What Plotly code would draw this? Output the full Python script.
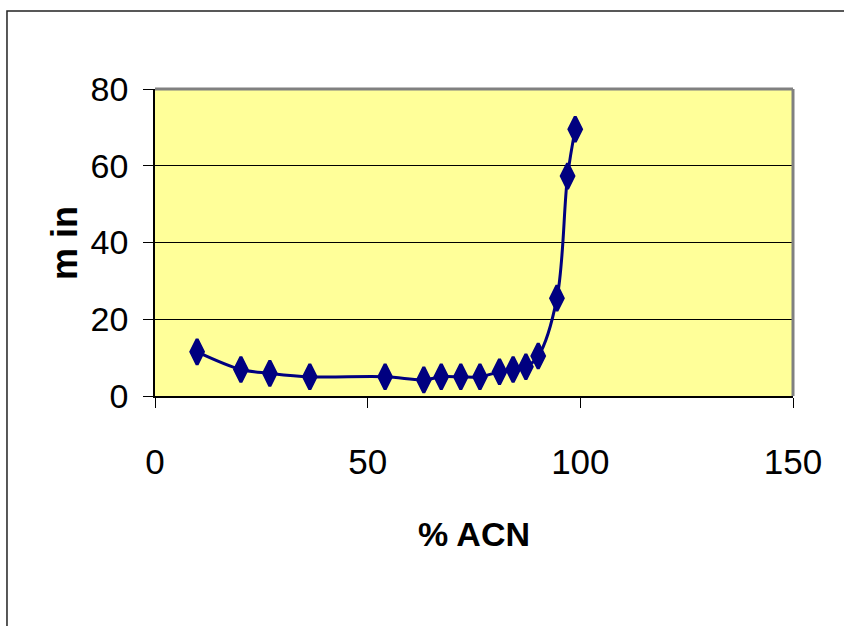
import plotly.graph_objects as go

# % acetonitrile in the mobile phase vs retention time (min)
acn_pct = [9.9, 20.2, 27.0, 36.4, 54.1, 63.2, 67.3, 71.9, 76.4, 81.0, 84.2, 87.2, 90.1, 94.5, 97.0, 98.8]
ret_min = [11.5, 6.9, 5.9, 5.0, 5.0, 4.2, 5.0, 5.0, 5.0, 6.3, 6.9, 7.6, 10.4, 25.5, 57.3, 69.5]

x_ticks = [0, 50, 100, 150]
y_ticks = [0, 20, 40, 60, 80]

NAVY = "#000080"
FONT = "Liberation Sans Narrow, Arial Narrow, Liberation Sans, sans-serif"

fig = go.Figure()
fig.add_trace(go.Scatter(
    x=acn_pct, y=ret_min,
    mode="lines+markers",
    line=dict(color=NAVY, width=3, shape="spline", smoothing=1.0),
    marker=dict(symbol="diamond-tall", size=18, color=NAVY,
                line=dict(color=NAVY, width=3)),
    showlegend=False,
    cliponaxis=False,
))

fig.update_layout(
    width=844, height=626,
    margin=dict(l=155, r=51, t=89, b=230),
    paper_bgcolor="white",
    plot_bgcolor="#FFFF99",
    font=dict(family=FONT, color="black", size=36),
    xaxis=dict(
        range=[0, 150], tickvals=x_ticks, ticktext=[str(v) for v in x_ticks],
        showgrid=False, zeroline=False,
        showline=True, linecolor="black", linewidth=1.5,
        ticks="outside", ticklen=10, tickwidth=1, tickcolor="black",
        ticklabelstandoff=24,
        tickfont=dict(family=FONT, size=35),
        title=dict(text="<b>% ACN</b>", standoff=42,
                   font=dict(family=FONT, size=34)),
    ),
    yaxis=dict(
        range=[0, 80], tickvals=y_ticks, ticktext=[str(v) for v in y_ticks],
        showgrid=True, gridcolor="black", gridwidth=1,
        zeroline=False,
        showline=True, linecolor="black", linewidth=1.5,
        ticks="outside", ticklen=10, tickwidth=1, tickcolor="black",
        ticklabelstandoff=8,
        tickfont=dict(family=FONT, size=34),
    ),
    annotations=[
        # y-axis caption, placed beside the tick labels
        dict(text="<b>m in</b>", textangle=-90, showarrow=False,
             xref="paper", yref="paper", x=-0.142, y=0.5,
             xanchor="center", yanchor="middle",
             font=dict(family=FONT, size=36, color="black")),
    ],
    shapes=[
        # grey top and right edges of the plotting area
        dict(type="line", xref="paper", yref="paper", x0=0, x1=1, y0=1, y1=1,
             line=dict(color="#808080", width=3)),
        dict(type="line", xref="paper", yref="paper", x0=1, x1=1, y0=0, y1=1,
             line=dict(color="#808080", width=3)),
        # outer chart frame
        dict(type="rect", xref="paper", yref="paper",
             x0=-0.232, x1=1.2, y0=-0.9, y1=1.254,
             line=dict(color="#222222", width=1.5), fillcolor="rgba(0,0,0,0)",
             layer="below"),
    ],
)

fig.write_html("out.html")
